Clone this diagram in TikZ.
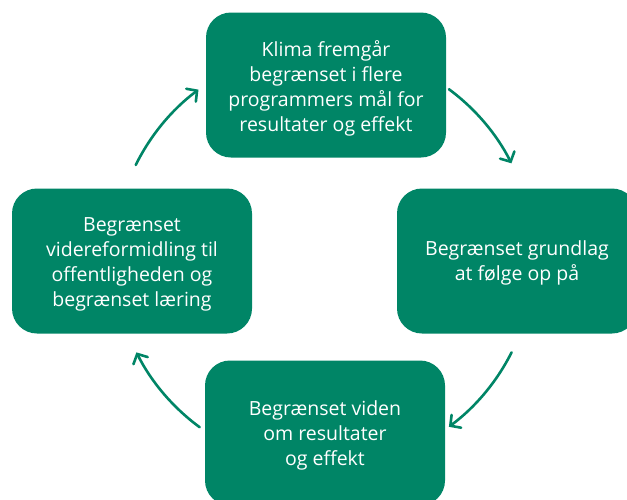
\documentclass[tikz,border=0pt]{standalone}
\usepackage{fontspec}
\setmainfont{Open Sans}
\usetikzlibrary{arrows.meta,calc}
\definecolor{boxgreen}{RGB}{0,133,102}
\tikzset{
  cyclebox/.style={fill=boxgreen, rounded corners=25pt, minimum width=240pt, minimum height=145pt, inner sep=0pt},
  boxtext/.style={text=white, align=center, inner sep=0pt, font=\fontsize{19.5}{25}\selectfont},
  flow/.style={draw=boxgreen, line width=2.6pt, line cap=round, -{Straight Barb[length=7.5pt,width=16pt,line cap=round]}}
}
\begin{document}
\begin{tikzpicture}[x=1pt,y=-1pt]
\useasboundingbox (0,0) rectangle (627,499);
\clip (0,0) rectangle (627,499);
\node[cyclebox] (top) at (326,85) {};
\node[cyclebox] (right) at (517,261) {};
\node[cyclebox] (bottom) at (325,433) {};
\node[cyclebox] (left) at (132,261) {};
\node[boxtext] (toptext) at ([yshift=-3pt]top.center) {Klima fremgår\\begrænset i flere\\programmers mål for\\resultater og effekt};
\node[boxtext] (righttext) at ([yshift=-2pt]right.center) {Begrænset grundlag\\at følge op på};
\node[boxtext] (bottomtext) at ([yshift=-2pt]bottom.center) {Begrænset viden\\om resultater\\og effekt};
\node[boxtext] (lefttext) at ([yshift=-3pt]left.center) {Begrænset\\videreformidling til\\offentligheden og\\begrænset læring};
\coordinate (ctr) at (324,258);
\coordinate (s1) at ($(ctr)+(53.5:210pt)$);
\coordinate (s2) at ($(ctr)+(-26.7:210pt)$);
\coordinate (s3) at ($(ctr)+(-126.3:210pt)$);
\coordinate (s4) at ($(ctr)+(153.7:210pt)$);
\draw[flow] (s1) arc[start angle=53.5, end angle=26.8, radius=210pt];
\draw[flow] (s2) arc[start angle=-26.7, end angle=-53.5, radius=210pt];
\draw[flow] (s3) arc[start angle=-126.3, end angle=-153.3, radius=210pt];
\draw[flow] (s4) arc[start angle=153.7, end angle=126.7, radius=210pt];
\end{tikzpicture}
\end{document}
